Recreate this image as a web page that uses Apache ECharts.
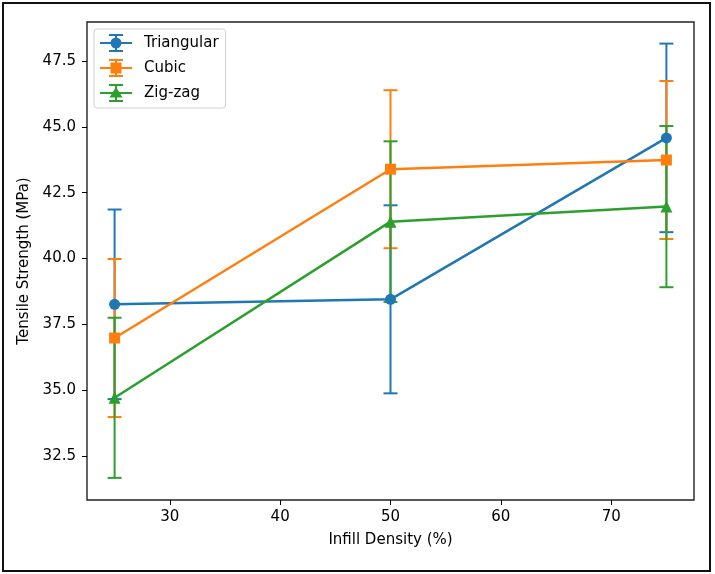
<!DOCTYPE html>
<html>
<head>
<meta charset="utf-8">
<script src="https://cdn.jsdelivr.net/npm/echarts@6/dist/echarts.min.js"></script>
<style>
  html, body { margin: 0; padding: 0; background: #fff; }
  #chart { width: 715px; height: 574px; }
</style>
</head>
<body>
<div id="chart"></div>
<script>
// values
const infill = [25, 50, 75];
const triangular = [38.26, 38.45, 44.58];
const triangularErr = [3.6, 3.57, 3.58];
const cubic = [36.98, 43.39, 43.74];
const cubicErr = [3.0, 3.0, 3.0];
const zigzag = [34.71, 41.4, 41.97];
const zigzagErr = [3.04, 3.05, 3.06];

const xTicks = [30, 40, 50, 60, 70];
const yTicks = [32.5, 35.0, 37.5, 40.0, 42.5, 45.0, 47.5];

const names = ['Triangular', 'Cubic', 'Zig-zag'];
const colors = ['#1f77b4', '#ff7f0e', '#2ca02c'];
const FONT = 'DejaVu Sans';

// legend handles: line + errorbar + marker, drawn in a 32x18 box
const handleBase = 'M0 8 H32 V10 H0 Z M15 0 H17 V18 H15 Z M9 0 H23 V2 H9 Z M9 16 H23 V18 H9 Z ';
const icons = [
    'path://' + handleBase + 'M21.5 9 A5.5 5.5 0 1 1 10.5 9 A5.5 5.5 0 1 1 21.5 9 Z',
    'path://' + handleBase + 'M10.5 3.5 H21.5 V14.5 H10.5 Z',
    'path://' + handleBase + 'M16 3 L22.5 13.5 H9.5 Z'
];

function pairs(ys) {
    return infill.map((x, i) => [x, ys[i]]);
}
function bars(ys, errs) {
    return infill.map((x, i) => [x, ys[i] - errs[i], ys[i] + errs[i]]);
}

function renderErr(color) {
    return function (params, api) {
        const x = api.value(0);
        const lo = api.coord([x, api.value(1)]);
        const hi = api.coord([x, api.value(2)]);
        const st = { stroke: color, lineWidth: 2 };
        return {
            type: 'group',
            children: [
                { type: 'line', shape: { x1: lo[0], y1: lo[1], x2: hi[0], y2: hi[1] }, style: st },
                { type: 'line', shape: { x1: lo[0] - 7, y1: lo[1], x2: lo[0] + 7, y2: lo[1] }, style: st },
                { type: 'line', shape: { x1: hi[0] - 7, y1: hi[1], x2: hi[0] + 7, y2: hi[1] }, style: st }
            ]
        };
    };
}

const values = [triangular, cubic, zigzag];
const errs = [triangularErr, cubicErr, zigzagErr];
const symbols = ['circle', 'rect', 'triangle'];
const symbolSizes = [11, 11, 12];

let series = [];
for (let i = 0; i < names.length; i++) {
    series.push({
        name: names[i] + ' err',
        type: 'custom',
        z: 1,
        data: bars(values[i], errs[i]),
        renderItem: renderErr(colors[i]),
        silent: true
    });
}
for (let i = 0; i < names.length; i++) {
    series.push({
        name: names[i],
        type: 'line',
        z: 3,
        data: pairs(values[i]),
        symbol: symbols[i],
        symbolSize: symbolSizes[i],
        showAllSymbol: true,
        itemStyle: { color: colors[i] },
        lineStyle: { color: colors[i], width: 2.5 },
        emphasis: { disabled: true }
    });
}

const chart = echarts.init(document.getElementById('chart'));
chart.setOption({
    animation: false,
    textStyle: { fontFamily: FONT },
    grid: {
        left: 87, top: 22, right: 21, bottom: 74,
        show: true, borderColor: '#222', borderWidth: 1.4
    },
    graphic: [{
        type: 'rect',
        shape: { x: 3, y: 3, width: 707, height: 568 },
        style: { fill: 'none', stroke: '#111', lineWidth: 2 },
        silent: true
    }],
    legend: {
        orient: 'vertical',
        left: 94, top: 29,
        padding: [5, 7, 6, 6],
        itemGap: 7,
        itemWidth: 32,
        itemHeight: 18,
        borderColor: '#d0d0d0',
        borderWidth: 1,
        borderRadius: 3,
        backgroundColor: '#fff',
        textStyle: { fontFamily: FONT, fontSize: 15, color: '#000', padding: [0, 0, 0, 7] },
        data: names.map((n, i) => ({ name: n, icon: icons[i] }))
    },
    xAxis: {
        type: 'value',
        min: 22.5, max: 77.5,
        name: 'Infill Density (%)',
        nameLocation: 'middle',
        nameGap: 33,
        nameTextStyle: { fontFamily: FONT, fontSize: 15, color: '#000' },
        axisLine: { show: false },
        axisTick: { show: true, inside: false, length: 5, lineStyle: { color: '#000' }, customValues: xTicks },
        axisLabel: { fontFamily: FONT, fontSize: 15, color: '#000', margin: 10, customValues: xTicks },
        splitLine: { show: false }
    },
    yAxis: {
        type: 'value',
        min: 30.83, max: 48.98,
        name: 'Tensile Strength (MPa)',
        nameLocation: 'middle',
        nameGap: 50,
        nameTextStyle: { fontFamily: FONT, fontSize: 15, color: '#000' },
        axisLine: { show: false },
        axisTick: { show: true, inside: false, length: 5, lineStyle: { color: '#000' }, customValues: yTicks },
        axisLabel: {
            fontFamily: FONT, fontSize: 15, color: '#000', margin: 11,
            customValues: yTicks,
            formatter: v => v.toFixed(1)
        },
        splitLine: { show: false }
    },
    series: series
});
</script>
</body>
</html>
